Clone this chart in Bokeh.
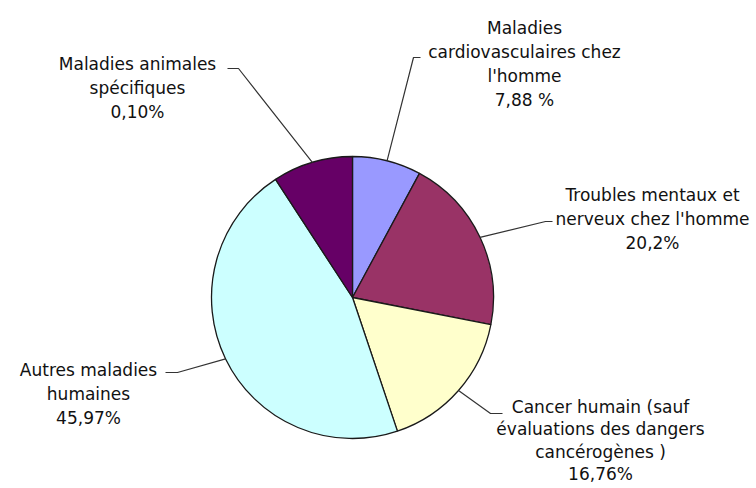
import math
from bokeh.plotting import figure
from bokeh.models import Range1d, ColumnDataSource
from bokeh.core.properties import value
from bokeh.embed import file_html
from bokeh.resources import INLINE

# ---- data ----
categories = [
    "Maladies cardiovasculaires chez l'homme",
    "Troubles mentaux et nerveux chez l'homme",
    "Cancer humain (sauf évaluations des dangers cancérogènes )",
    "Autres maladies humaines",
    "Maladies animales spécifiques",
]
shares = [7.88, 20.2, 16.76, 45.97, 9.19]
pct_labels = ["7,88 %", "20,2%", "16,76%", "45,97%", "0,10%"]
label_lines = [
    ["Maladies", "cardiovasculaires chez", "l'homme"],
    ["Troubles mentaux et", "nerveux chez l'homme"],
    ["Cancer humain (sauf", "évaluations des dangers", "cancérogènes )"],
    ["Autres maladies", "humaines"],
    ["Maladies animales", "spécifiques"],
]
colors = ["#9999FF", "#993366", "#FFFFCC", "#CCFFFF", "#660066"]

# ---- layout (page pixel coordinates) ----
W, H = 756, 488
def Y(s):
    return H - s

CX, CY, R = 352, Y(297), 141
label_cx = [524, 652, 600, 88, 137]
label_y0 = [27, 194, 406, 369, 63]
label_lh = [24, 24, 22.5, 24, 24]
elbow = [(413, 57), (545, 221), (490, 413), (177, 372), (238, 68)]
tick_end = [(420, 57), (552, 221), (502, 413), (165, 372), (227, 68)]

p = figure(width=W, height=H, output_backend="svg", toolbar_location=None,
           x_range=Range1d(0, W), y_range=Range1d(0, H),
           min_border=0, background_fill_color="white", border_fill_color="white")
p.axis.visible = False
p.grid.visible = False
p.outline_line_color = None

total = sum(shares)
starts, ends, mids = [], [], []
cum = 0.0
for v in shares:
    a0 = math.pi / 2 - 2 * math.pi * cum / total
    cum += v
    a1 = math.pi / 2 - 2 * math.pi * cum / total
    starts.append(a0)
    ends.append(a1)
    mids.append((a0 + a1) / 2)

src = ColumnDataSource(dict(x=[CX] * len(shares), y=[CY] * len(shares),
                            start=starts, end=ends, color=colors, cat=categories))
p.wedge(x="x", y="y", radius=R, start_angle="start", end_angle="end",
        direction="clock", fill_color="color", line_color="#1a1a1a",
        line_width=1.3, source=src)

# leader lines
xs, ys = [], []
for m, (ex, ey), (tx, ty) in zip(mids, elbow, tick_end):
    px = CX + R * math.cos(m)
    py = CY + R * math.sin(m)
    xs.append([px, ex, tx])
    ys.append([py, Y(ey), Y(ty)])
p.multi_line(xs=xs, ys=ys, line_color="#333333", line_width=1.2)

# labels
tx_, ty_, tt_ = [], [], []
for lines, pct, cx, y0, lh in zip(label_lines, pct_labels, label_cx, label_y0, label_lh):
    for i, t in enumerate(lines + [pct]):
        tx_.append(cx)
        ty_.append(Y(y0 + i * lh))
        tt_.append(t)
p.text(x=tx_, y=ty_, text=tt_, text_align="center", text_baseline="middle",
       text_font=value("DejaVu Sans"), text_font_size="17px", text_color="#111111")

open("out.html", "w").write(file_html(p, INLINE))
